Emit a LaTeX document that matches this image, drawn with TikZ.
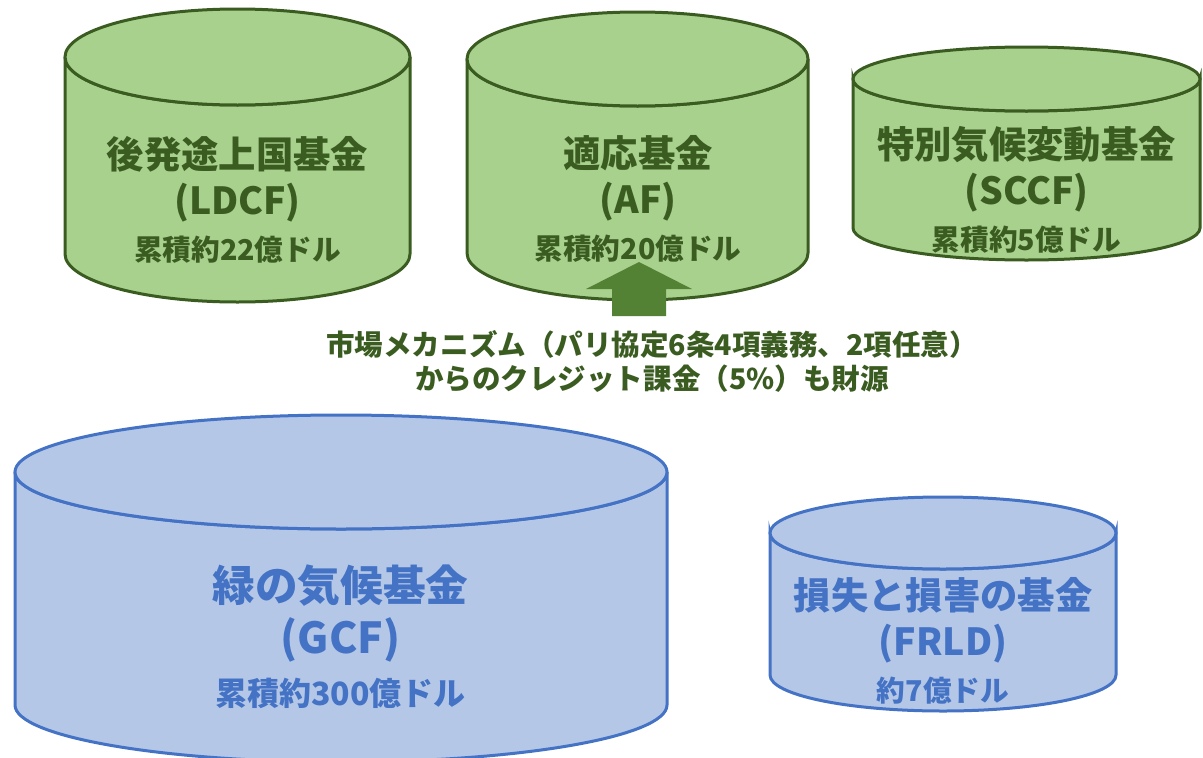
\documentclass[tikz,border=0pt]{standalone}
\usepackage{fontspec}
\setmainfont{Noto Sans CJK JP}

\definecolor{drumgreen}{HTML}{A9D18E}
\definecolor{linegreen}{HTML}{3B5C21}
\definecolor{textgreen}{HTML}{3B5C21}
\definecolor{arrowgreen}{HTML}{548235}
\definecolor{drumblue}{HTML}{B4C7E7}
\definecolor{lineblue}{HTML}{4472C4}

% cylinder: style, left x, right x, top y, bottom y, y radius
\newcommand{\drum}[6]{%
  \pgfmathsetmacro\drumrx{(#3-#2)/2}
  \path[#1] (#2,#4) -- (#2,#5) arc[start angle=180,end angle=0,x radius=\drumrx,y radius=#6]
    -- (#3,#4) arc[start angle=0,end angle=180,x radius=\drumrx,y radius=#6] -- cycle;
  \path[#1] ({(#2+#3)/2},#4) ellipse[x radius=\drumrx,y radius=#6];
}

\begin{document}
\begin{tikzpicture}[x=0.75pt,y=-0.75pt,
    greendrum/.style={fill=drumgreen,draw=linegreen,line width=2.25pt},
    bluedrum/.style={fill=drumblue,draw=lineblue,line width=2.25pt},
    fundname/.style={align=center,inner sep=0pt,font=\bfseries\fontsize{28}{34.5}\selectfont},
    bigname/.style={align=center,inner sep=0pt,font=\bfseries\fontsize{32}{39}\selectfont}]
  \useasboundingbox (0,0) rectangle (1203,757);

  % green funds
  \drum{greendrum}{65}{410}{57}{254}{48}
  \drum{greendrum}{467}{808}{59}{253}{47}
  \drum{greendrum}{853}{1200}{79}{228}{32}
  \node[fundname,text=textgreen] (ldcf) at (237.5,200) {後発途上国基金\\(LDCF)\\\fontsize{21.5}{27}\selectfont 累積約22億ドル};
  \node[fundname,text=textgreen] (af) at (638,199) {適応基金\\(AF)\\\fontsize{21.5}{27}\selectfont 累積約20億ドル};
  \node[fundname,text=textgreen] (sccf) at (1026.5,190) {特別気候変動基金\\(SCCF)\\\fontsize{21.5}{27}\selectfont 累積約5億ドル};

  % blue funds
  \drum{bluedrum}{15}{667}{472}{705}{57}
  \drum{bluedrum}{770}{1116}{533}{675}{36}
  \node[bigname,text=lineblue] (gcf) at (340.5,637) {緑の気候基金\\(GCF)\\\fontsize{24}{30}\selectfont 累積約300億ドル};
  \node[fundname,text=lineblue] (frld) at (943,641) {損失と損害の基金\\(FRLD)\\\fontsize{21.5}{27}\selectfont 約7億ドル};

  % share of proceeds into AF
  \node[align=center,inner sep=0pt,text=textgreen,font=\bfseries\fontsize{21.4}{25.5}\selectfont] (note) at (652,361)
    {市場メカニズム（パリ協定6条4項義務、2項任意）\\からのクレジット課金（5\%）も財源};
  \coordinate (foot) at (639,316);
  \coordinate (tip) at (639,262);
  \fill[arrowgreen] (foot) ++(-27,0) -- ++(0,-27) -- ++(-26,0) -- (tip) -- ++(53,27) -- ++(-26,0) -- ++(0,27) -- cycle;
\end{tikzpicture}
\end{document}
